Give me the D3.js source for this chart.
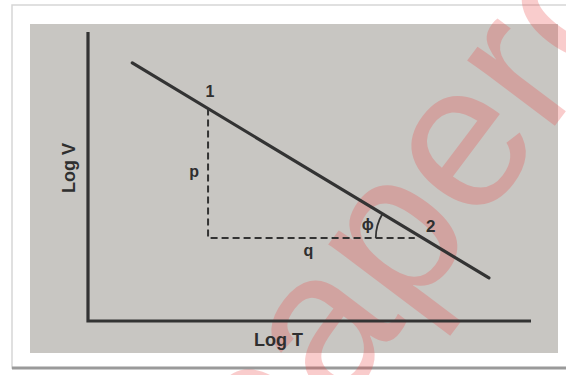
<!DOCTYPE html>
<meta charset="utf-8">
<head>
  <title>Log V vs Log T</title>
</head>
<script src="https://d3js.org/d3.v7.min.js"></script>
<style>
  body { margin: 0; background: #fff; }
  text { font-family: "Liberation Sans", Arial, sans-serif; }
</style>
<div id="chart"></div>
<script>
  // data (arbitrary log units)
  var lineX = [1.0, 9.05];        // straight line, Log T
  var lineY = [8.93, 1.49];       // straight line, Log V
  var point1X = 2.71;             // point 1 sits on the line at this Log T
  var point2Y = 2.87;             // point 2 sits on the line at this Log V
  var axisLabels = ["Log T", "Log V"];
  var pointLabels = ["1", "2"];
  var legLabels = ["p", "q"];

  var width = 566, height = 375;

  var svg = d3.select("#chart")
    .append("svg")
      .attr("width", width)
      .attr("height", height);

  // photo frame + grey paper
  svg.append("rect")
    .attr("x", 12).attr("y", 5)
    .attr("width", 560).attr("height", 363)
    .attr("fill", "#fff")
    .attr("stroke", "#d6d6d6")
    .attr("stroke-width", 1.5);
  svg.append("line")
    .attr("x1", 12).attr("x2", 566)
    .attr("y1", 368).attr("y2", 368)
    .attr("stroke", "#9a9a9a")
    .attr("stroke-width", 3);
  svg.append("rect")
    .attr("x", 30).attr("y", 24)
    .attr("width", 528).attr("height", 329)
    .attr("fill", "#c8c6c2");

  // scales
  var x = d3.scaleLinear().domain([0, 10]).range([88, 531]);
  var y = d3.scaleLinear().domain([0, 10]).range([321, 32]);

  // line helpers
  var slope = (lineY[1] - lineY[0]) / (lineX[1] - lineX[0]);
  var p1 = [point1X, lineY[0] + slope * (point1X - lineX[0])];
  var p2 = [lineX[0] + (point2Y - lineY[0]) / slope, point2Y];

  var ink = "#333";

  // watermark (clipped to the page)
  svg.append("clipPath").attr("id", "page")
    .append("rect").attr("width", width).attr("height", height);
  svg.append("g").attr("clip-path", "url(#page)")
    .append("text")
    .attr("transform", "translate(269,505) rotate(-53)")
    .attr("fill", "rgb(236,70,70)")
    .attr("opacity", 0.27)
    .style("font-size", "207px")
    .text("paperc");

  // axes
  svg.append("path")
    .attr("d", d3.line()([[x(0), y(10)], [x(0), y(0)], [x(10), y(0)]]))
    .attr("fill", "none")
    .attr("stroke", ink)
    .attr("stroke-width", 3.2);

  // main line
  svg.append("path")
    .datum(d3.zip(lineX, lineY))
    .attr("d", d3.line().x(function(d) { return x(d[0]); }).y(function(d) { return y(d[1]); }))
    .attr("stroke", ink)
    .attr("stroke-width", 3.2)
    .attr("stroke-linecap", "round")
    .attr("fill", "none");

  // dashed triangle legs
  svg.append("path")
    .attr("d", d3.line()([[x(p1[0]), y(p1[1])], [x(p1[0]), y(p2[1])], [x(p2[0]) - 8, y(p2[1])]]))
    .attr("fill", "none")
    .attr("stroke", ink)
    .attr("stroke-width", 2)
    .attr("stroke-dasharray", "7,4");

  // angle arc at point 2
  var ang = Math.atan2(y(p1[1]) - y(p2[1]), x(p2[0]) - x(p1[0]));
  svg.append("path")
    .attr("transform", "translate(" + x(p2[0]) + "," + y(p2[1]) + ")")
    .attr("d", d3.arc()({innerRadius: 47, outerRadius: 47,
                         startAngle: -Math.PI / 2, endAngle: -Math.PI / 2 + Math.abs(ang)}))
    .attr("fill", "none")
    .attr("stroke", ink)
    .attr("stroke-width", 1.8);

  // labels
  var lab = function(tx, ty, s, size) {
    return svg.append("text")
      .attr("x", tx).attr("y", ty)
      .attr("text-anchor", "middle")
      .attr("fill", "#2f2f2f")
      .style("font-size", size + "px")
      .style("font-weight", "bold")
      .text(s);
  };
  lab(x(p1[0]) + 2, y(p1[1]) - 12, pointLabels[0], 16);
  lab(x(p2[0]) + 8, y(p2[1]) - 6, pointLabels[1], 17);
  lab(x(p1[0]) - 14, (y(p1[1]) + y(p2[1])) / 2 + 4, legLabels[0], 16);
  lab((x(p1[0]) + x(p2[0])) / 2 - 7, y(p2[1]) + 18, legLabels[1], 16);
  lab(x(p2[0]) - 55, y(p2[1]) - 8, "\u03d5", 16);

  lab(x(4.3), 346, axisLabels[0], 18);
  svg.append("text")
    .attr("transform", "translate(75,168) rotate(-90)")
    .attr("text-anchor", "middle")
    .attr("fill", "#2f2f2f")
    .style("font-size", "18px")
    .style("font-weight", "bold")
    .text(axisLabels[1]);
</script>
